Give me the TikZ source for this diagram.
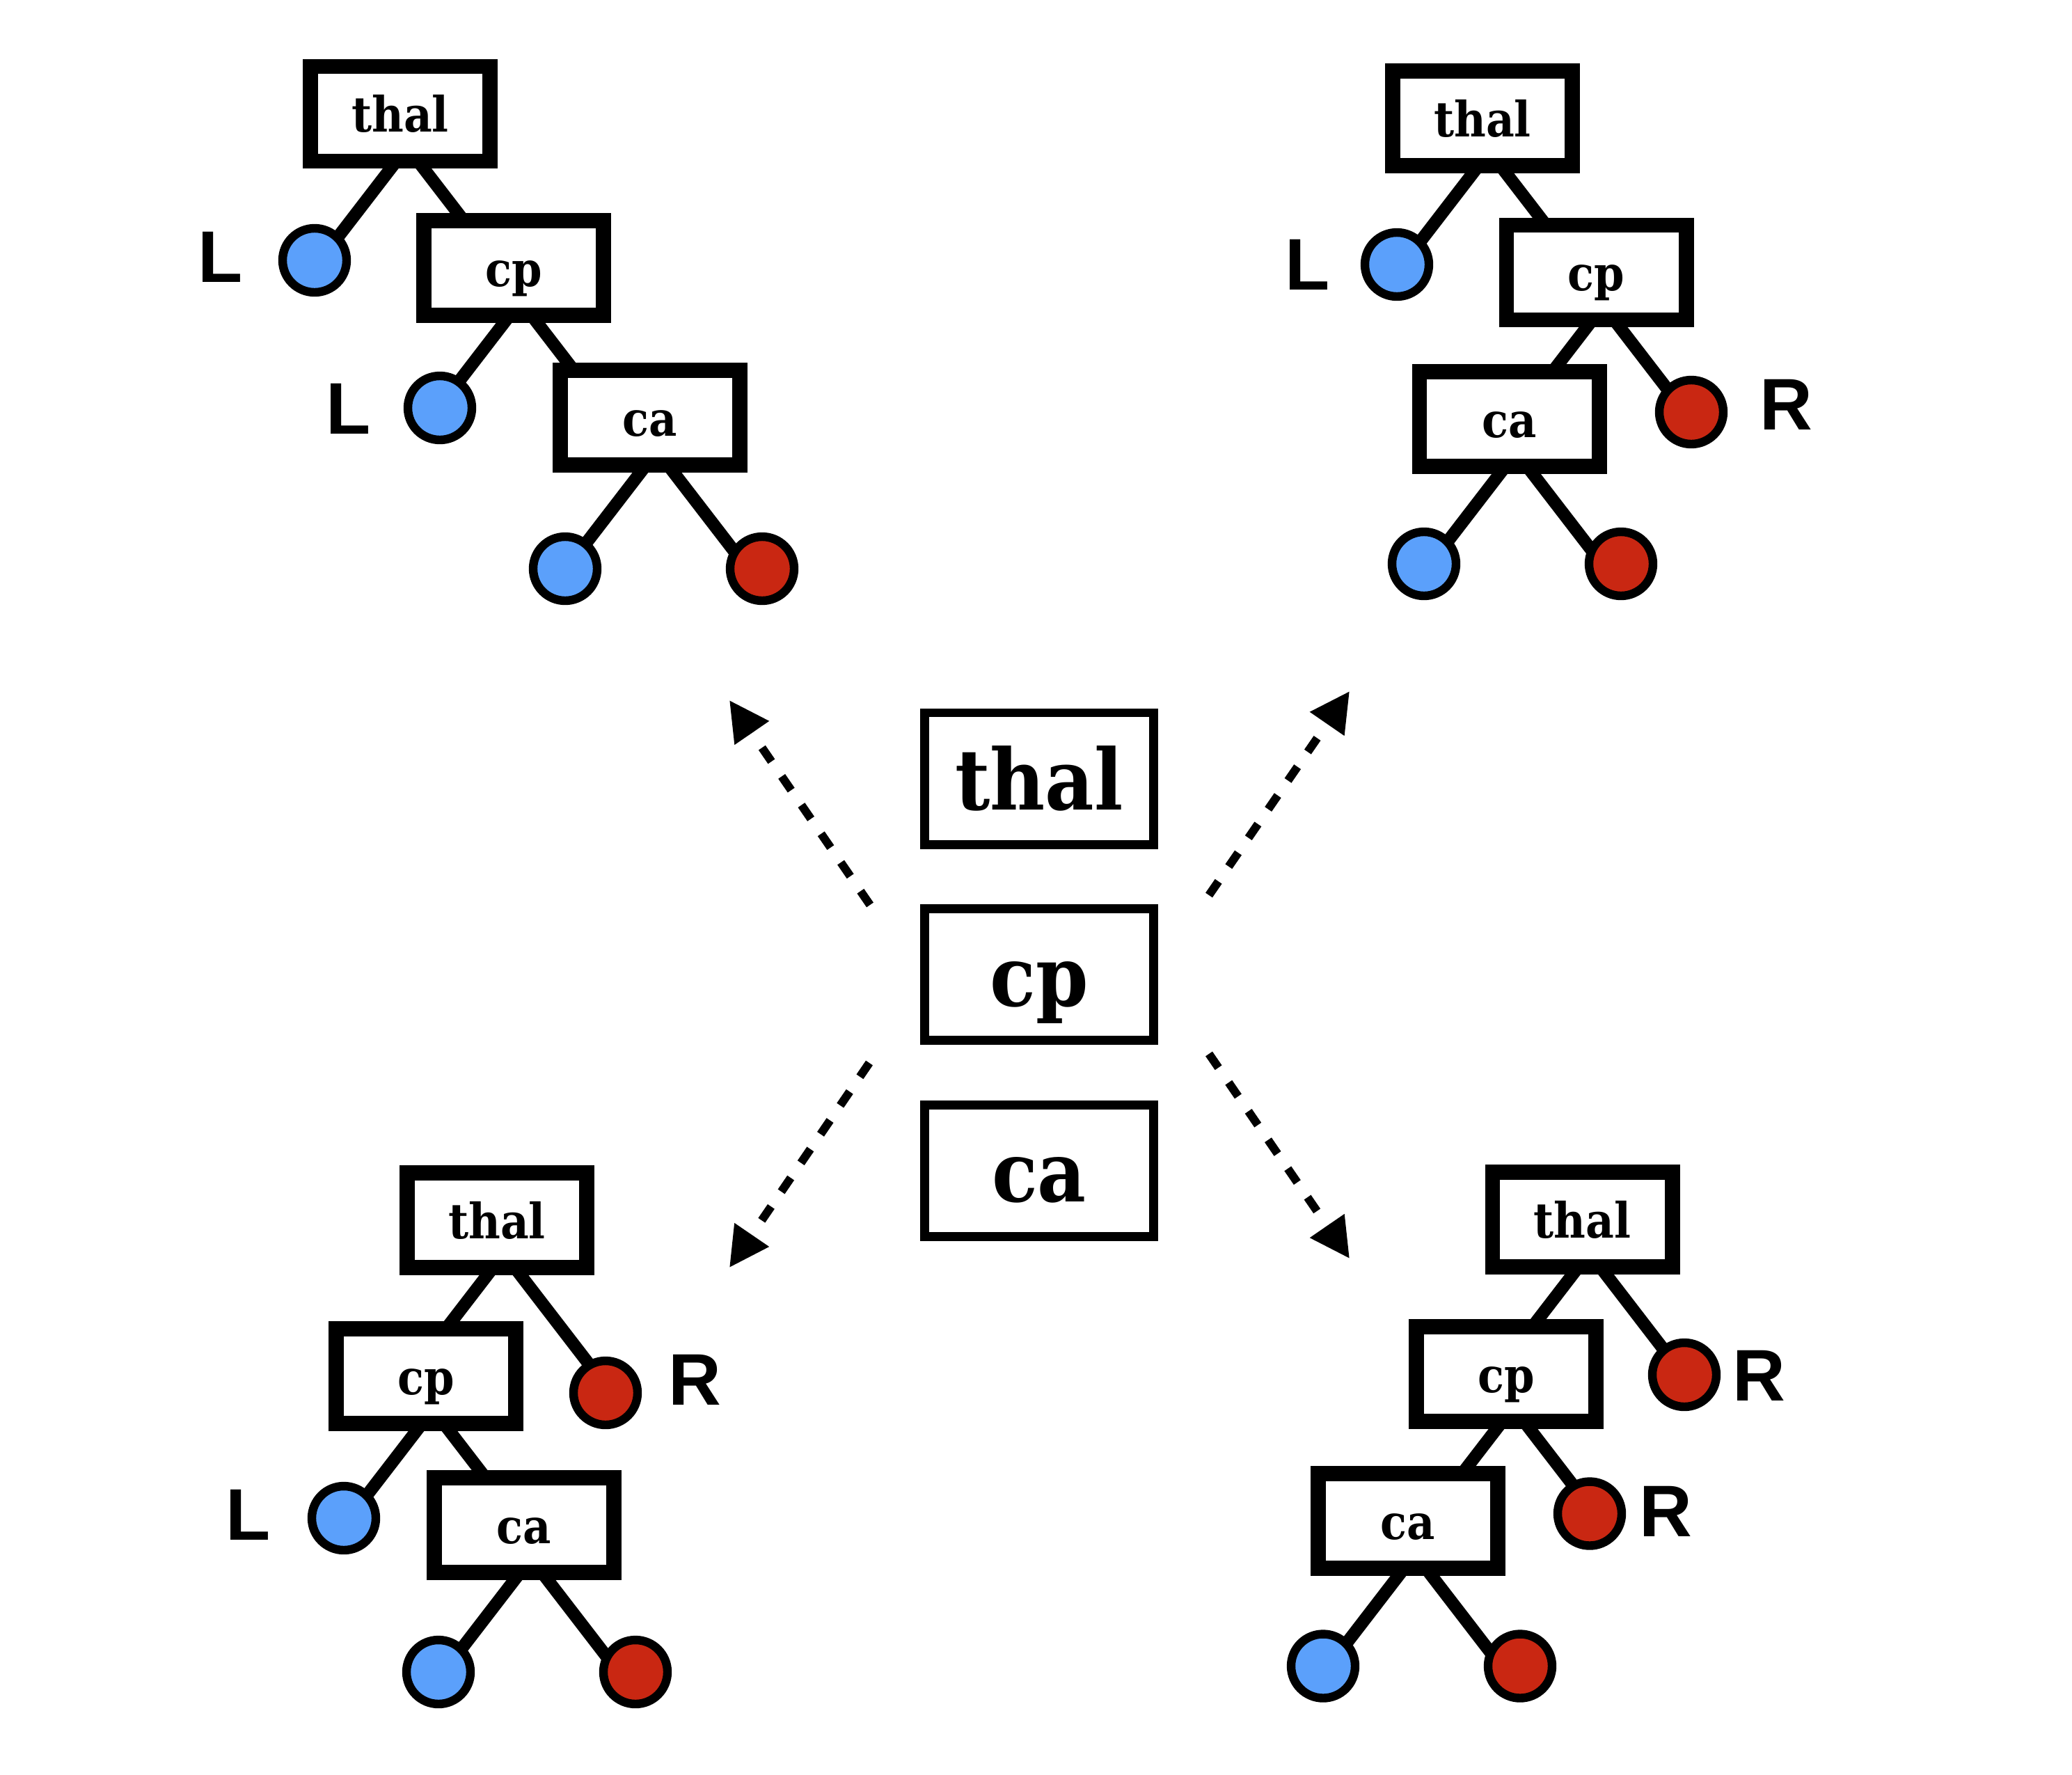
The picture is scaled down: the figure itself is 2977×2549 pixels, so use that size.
\documentclass[tikz,border=0pt]{standalone}
\usepackage{fontspec}
\usepackage{xcolor}
\usepackage{tikz}
\usetikzlibrary{arrows.meta, backgrounds}

\newfontfamily\boxfont{DejaVu Serif Condensed Bold}
\newfontfamily\sidefont{Liberation Sans Bold}
\definecolor{leafblue}{RGB}{91,160,251}
\definecolor{leafred}{RGB}{201,39,18}

\begin{document}
\begin{tikzpicture}[x=0.25pt, y=-0.25pt,
    treebox/.style={rectangle, draw, line width=5.4pt, fill=white, inner sep=0pt, minimum width=64.6pt, minimum height=34pt, text height=13pt, text depth=0pt, font=\boxfont\fontsize{17.3pt}{17.3pt}\selectfont},
    longword/.style={font=\boxfont\fontsize{17.5pt}{17.5pt}\selectfont},
    mainbox/.style={rectangle, draw, line width=3.2pt, fill=white, inner sep=0pt, minimum width=82.25pt, minimum height=47.3pt, text height=22.5pt, text depth=0pt, font=\boxfont\fontsize{30pt}{30pt}\selectfont},
    bigword/.style={font=\boxfont\fontsize{30.25pt}{30.25pt}\selectfont},
    leafL/.style={circle, draw, line width=3.1pt, inner sep=0pt, minimum size=23pt, fill=leafblue},
    leafR/.style={leafL, fill=leafred},
    side/.style={inner sep=0pt, font=\sidefont\fontsize{26.25pt}{26.25pt}\selectfont},
    edge/.style={line width=4.5pt},
    from/.style={xshift=2.5pt, yshift=-11.94pt},
    move/.style={line width=3pt, dash pattern=on 6pt off 6.5pt, -{Triangle[length=14.25pt, width=14.25pt]}}
  ]
    \useasboundingbox (0,0) rectangle (2977,2549);

    % top left
    \node[treebox, longword] (tlthal) at (575,163.5) {thal};
    \node[treebox] (tlcp) at (738,385) {cp};
    \node[treebox] (tlca) at (934,600) {ca};
    \node[leafL] (tlleaf1) at (452,374) {};
    \node[leafL] (tlleaf2) at (632,586) {};
    \node[leafL] (tlleaf3) at (812,817) {};
    \node[leafR] (tlleaf4) at (1095,817) {};
    \node[side] (tllab1) at (317,369) {L};
    \node[side] (tllab2) at (501,587) {L};
    \begin{pgfonlayer}{background}
        \draw[edge] ([from]tlthal.center) -- ([xshift=1.95pt]tlleaf1.center);
        \draw[edge] ([from]tlthal.center) -- ([xshift=-4.84pt]tlcp.center);
        \draw[edge] ([from]tlcp.center) -- ([xshift=-0.48pt]tlleaf2.center);
        \draw[edge] ([from]tlcp.center) -- ([xshift=-14.34pt]tlca.center);
        \draw[edge] ([from]tlca.center) -- ([xshift=0.45pt]tlleaf3.center);
        \draw[edge] ([from]tlca.center) -- ([xshift=-5.2pt]tlleaf4.center);
    \end{pgfonlayer}

    % top right
    \node[treebox, longword] (trthal) at (2130,170) {thal};
    \node[treebox] (trcp) at (2293.5,391.5) {cp};
    \node[treebox] (trca) at (2168.5,602) {ca};
    \node[leafL] (trleaf1) at (2007,380) {};
    \node[leafR] (trleaf2) at (2430,592) {};
    \node[leafL] (trleaf3) at (2046,810) {};
    \node[leafR] (trleaf4) at (2329,810) {};
    \node[side] (trlab1) at (1879,380) {L};
    \node[side] (trlab2) at (2566,581) {R};
    \begin{pgfonlayer}{background}
        \draw[edge] ([from]trthal.center) -- ([xshift=2.05pt]trleaf1.center);
        \draw[edge] ([from]trthal.center) -- ([xshift=-4.96pt]trcp.center);
        \draw[edge] ([from]trcp.center) -- ([xshift=2.45pt]trca.center);
        \draw[edge] ([from]trcp.center) -- ([xshift=-2.25pt]trleaf2.center);
        \draw[edge] ([from]trca.center) -- ([xshift=2.3pt]trleaf3.center);
        \draw[edge] ([from]trca.center) -- ([xshift=-6.8pt]trleaf4.center);
    \end{pgfonlayer}

    % bottom left
    \node[treebox, longword] (blthal) at (714,1753) {thal};
    \node[treebox] (blcp) at (612,1977) {cp};
    \node[treebox] (blca) at (753,2191) {ca};
    \node[leafR] (blleaf1) at (870,2001) {};
    \node[leafL] (blleaf2) at (494,2181) {};
    \node[leafL] (blleaf3) at (630,2402) {};
    \node[leafR] (blleaf4) at (913,2402) {};
    \node[side] (bllab1) at (998,1982) {R};
    \node[side] (bllab2) at (357,2176) {L};
    \begin{pgfonlayer}{background}
        \draw[edge] ([from]blthal.center) -- ([xshift=-5.9pt]blcp.center);
        \draw[edge] ([from]blthal.center) -- ([xshift=2pt]blleaf1.center);
        \draw[edge] ([from]blcp.center) -- ([xshift=1.95pt]blleaf2.center);
        \draw[edge] ([from]blcp.center) -- ([xshift=-0.78pt]blca.center);
        \draw[edge] ([from]blca.center) -- ([xshift=1.85pt]blleaf3.center);
        \draw[edge] ([from]blca.center) -- ([xshift=-6.1pt]blleaf4.center);
    \end{pgfonlayer}

    % bottom right
    \node[treebox, longword] (brthal) at (2273.5,1752) {thal};
    \node[treebox] (brcp) at (2164,1974) {cp};
    \node[treebox] (brca) at (2023,2185) {ca};
    \node[leafR] (brleaf1) at (2420,1975) {};
    \node[leafR] (brleaf2) at (2284,2174.5) {};
    \node[leafL] (brleaf3) at (1901,2393.5) {};
    \node[leafR] (brleaf4) at (2184,2393.5) {};
    \node[side] (brlab1) at (2527,1976) {R};
    \node[side] (brlab2) at (2393,2171) {R};
    \begin{pgfonlayer}{background}
        \draw[edge] ([from]brthal.center) -- ([xshift=-3.63pt]brcp.center);
        \draw[edge] ([from]brthal.center) -- ([xshift=-0.43pt]brleaf1.center);
        \draw[edge] ([from]brcp.center) -- ([xshift=6.35pt]brca.center);
        \draw[edge] ([from]brcp.center) -- ([xshift=1.88pt]brleaf2.center);
        \draw[edge] ([from]brca.center) -- ([xshift=2.08pt]brleaf3.center);
        \draw[edge] ([from]brca.center) -- ([xshift=-6.83pt]brleaf4.center);
    \end{pgfonlayer}

    % middle
    \node[mainbox, bigword] (thal) at (1493,1118.5) {thal};
    \node[mainbox] (cp) at (1493,1400) {cp};
    \node[mainbox] (ca) at (1493,1681.7) {ca};

    \coordinate (ulfrom) at (1250,1300);
    \coordinate (ulto) at (1048,1006);
    \coordinate (urfrom) at (1737,1286);
    \coordinate (urto) at (1939,993);
    \coordinate (llfrom) at (1249,1527);
    \coordinate (llto) at (1048,1821);
    \coordinate (lrfrom) at (1737,1514);
    \coordinate (lrto) at (1939,1808);
    \draw[move] (ulfrom) -- (ulto);
    \draw[move] (urfrom) -- (urto);
    \draw[move] (llfrom) -- (llto);
    \draw[move] (lrfrom) -- (lrto);
\end{tikzpicture}
\end{document}
